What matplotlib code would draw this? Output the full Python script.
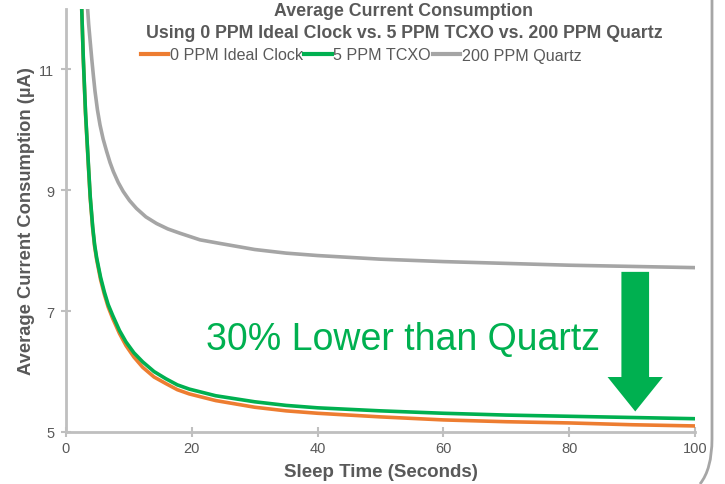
import numpy as np
import matplotlib
matplotlib.use("Agg")
import matplotlib.pyplot as plt
from matplotlib.path import Path
from matplotlib.patches import PathPatch, FancyArrow

plt.rcParams['font.family'] = ['Liberation Sans', 'DejaVu Sans']

# values
quartz_x = [3.25, 3.6, 4.08, 4.35, 4.61, 5.0, 5.41, 5.9, 6.47, 7.0, 7.53, 8.3, 9.1, 10.1, 11.2, 12.7, 14.4, 16.2, 18.1, 21.3, 24.5, 30, 35, 40, 50, 60, 70, 80, 90, 100]
quartz_y = [12.3, 11.75, 11.19, 10.9, 10.64, 10.33, 10.08, 9.85, 9.64, 9.46, 9.31, 9.13, 8.98, 8.83, 8.70, 8.56, 8.45, 8.36, 8.29, 8.18, 8.12, 8.02, 7.96, 7.92, 7.86, 7.82, 7.79, 7.76, 7.74, 7.72]

tcxo_x = [2.35, 2.5, 2.75, 3.1, 3.55, 3.85, 4.24, 4.55, 4.88, 5.5, 6.09, 6.7, 7.42, 8.5, 9.54, 10.8, 12.2, 14.0, 15.9, 17.7, 19.6, 23.8, 30, 35, 40, 50, 60, 70, 80, 90, 100]
tcxo_y = [12.4, 12.0, 11.19, 10.3, 9.45, 8.9, 8.40, 8.10, 7.88, 7.56, 7.32, 7.11, 6.93, 6.68, 6.49, 6.31, 6.16, 6.00, 5.88, 5.78, 5.71, 5.60, 5.50, 5.44, 5.40, 5.35, 5.31, 5.28, 5.26, 5.24, 5.22]

ideal_x = [2.35, 2.5, 2.75, 3.1, 3.55, 3.85, 4.24, 4.55, 4.88, 5.5, 6.09, 6.7, 7.42, 8.5, 9.54, 10.8, 12.2, 14.0, 15.9, 17.7, 19.6, 23.8, 30, 35, 40, 50, 60, 70, 80, 90, 100]
ideal_y = [12.4, 12.0, 11.17, 10.27, 9.42, 8.87, 8.37, 8.07, 7.85, 7.52, 7.28, 7.07, 6.88, 6.63, 6.43, 6.24, 6.07, 5.91, 5.80, 5.70, 5.63, 5.52, 5.41, 5.35, 5.31, 5.25, 5.20, 5.17, 5.15, 5.12, 5.10]

series_names = ["0 PPM Ideal Clock", "5 PPM TCXO", "200 PPM Quartz"]
series_colors = ["#ED7D31", "#00B050", "#A5A5A5"]
y_ticks = [5, 7, 9, 11]
x_ticks = [0, 20, 40, 60, 80, 100]

text_col = "#595959"
axis_col = "#BFBFBF"

fig = plt.figure(figsize=(7.25, 4.85), dpi=100)
ax = fig.add_axes([66 / 725, 1 - 433 / 485, 629 / 725, 423 / 485])

for xs, ys, name, col in zip([ideal_x, tcxo_x, quartz_x], [ideal_y, tcxo_y, quartz_y],
                             series_names, series_colors):
    ax.plot(xs, ys, color=col, lw=2.6, label=name, solid_joinstyle="round")

ax.set_xlim(0, 100)
ax.set_ylim(5, 12)
ax.set_xticks(x_ticks)
ax.set_yticks(y_ticks)
for s in ["top", "right"]:
    ax.spines[s].set_visible(False)
for s in ["left", "bottom"]:
    ax.spines[s].set_color(axis_col)
    ax.spines[s].set_linewidth(2)
ax.tick_params(direction="inout", length=7, width=1.5, color=axis_col,
               labelcolor=text_col, labelsize=10.5)
ax.tick_params(axis="y", pad=5)
ax.tick_params(axis="x", pad=3)

ax.set_xlabel("Sleep Time (Seconds)", fontsize=13.5, fontweight="bold", color=text_col, labelpad=5.5)
ax.set_ylabel("Average Current Consumption (\u00b5A)", fontsize=13.2, fontweight="bold",
              color=text_col, labelpad=3)

# annotation
ax.text(53.6, 6.54, "30% Lower than Quartz", fontsize=27, color="#00B050",
        ha="center", va="center")
arr = FancyArrow(90.5, 7.65, 0, -(7.65 - 5.34), width=4.4, head_width=8.8,
                 head_length=0.57, length_includes_head=True, color="#00B050", lw=0)
ax.add_patch(arr)

# titles
fig.text(404 / 725, 1 - 12 / 485, "Average Current Consumption", ha="center", va="center",
         fontsize=12.8, fontweight="bold", color=text_col)
fig.text(404 / 725, 1 - 33 / 485, "Using 0 PPM Ideal Clock vs. 5 PPM TCXO vs. 200 PPM Quartz",
         ha="center", va="center", fontsize=12.8, fontweight="bold", color=text_col)

leg = ax.legend(loc="center", bbox_to_anchor=(361 / 725, 1 - 56 / 485),
                bbox_transform=fig.transFigure, ncol=3, frameon=False,
                fontsize=11.6, handlelength=1.7, handletextpad=0.1,
                columnspacing=0.1)
for t in leg.get_texts():
    t.set_color(text_col)
for h in leg.get_lines():
    h.set_linewidth(3)

# slide frame edge on the right
W, H = 725, 485
verts = [(712 / W, 1.0), (712 / W, 1 - 440 / H), (712 / W, 1 - 470 / H), (700 / W, 0.0)]
codes = [Path.MOVETO, Path.LINETO, Path.CURVE3, Path.CURVE3]
fig.add_artist(PathPatch(Path(verts, codes), transform=fig.transFigure, fill=False,
                         edgecolor="#A6A6A6", lw=2))

fig.savefig("out.png", dpi=100)
